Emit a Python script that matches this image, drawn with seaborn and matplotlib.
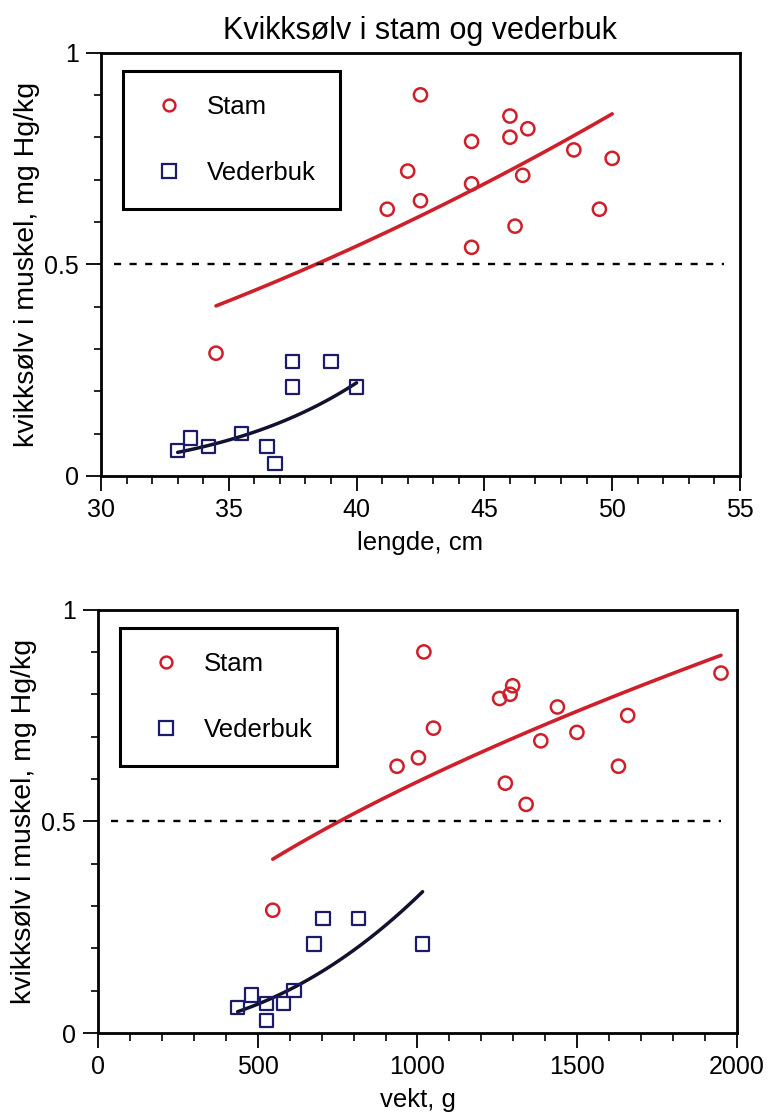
import numpy as np
import pandas as pd
import matplotlib
matplotlib.use("Agg")
import matplotlib.pyplot as plt
import seaborn as sns
from matplotlib.ticker import MultipleLocator, FixedLocator, FuncFormatter
from matplotlib.lines import Line2D

# ---------------- data ----------------
title = "Kvikksølv i stam og vederbuk"
y_label = "kvikksølv i muskel, mg Hg/kg"
x_label_length = "lengde, cm"
x_label_weight = "vekt, g"
species = ["Stam", "Vederbuk"]
threshold = 0.5

stam_length = [42.5, 46.0, 46.7, 46.0, 44.5, 48.5, 50.0, 42.0, 46.5, 44.5, 42.5, 41.2, 49.5, 46.2, 44.5, 34.5]
stam_weight = [1020, 1950, 1298, 1290, 1257, 1438, 1658, 1050, 1499, 1386, 1003, 936, 1629, 1275, 1340, 547]
stam_hg = [0.90, 0.85, 0.82, 0.80, 0.79, 0.77, 0.75, 0.72, 0.71, 0.69, 0.65, 0.63, 0.63, 0.59, 0.54, 0.29]

ved_length = [33.0, 33.5, 34.2, 36.5, 36.8, 35.5, 37.5, 40.0, 37.5, 39.0]
ved_weight = [437, 481, 527, 580, 527, 614, 676, 1016, 704, 815]
ved_hg = [0.06, 0.09, 0.07, 0.07, 0.03, 0.10, 0.21, 0.21, 0.27, 0.27]

length_ticks = [30, 35, 40, 45, 50, 55]
weight_ticks = [0, 500, 1000, 1500, 2000]
hg_ticks = [0, 0.5, 1]

# ---------------- style ----------------
sns.set_style("ticks")
plt.rcParams["font.family"] = ["Liberation Sans", "DejaVu Sans"]
plt.rcParams["text.color"] = "black"
plt.rcParams["axes.labelcolor"] = "black"
plt.rcParams["xtick.color"] = "black"
plt.rcParams["ytick.color"] = "black"

RED = "#cf1f2b"
NAVY = "#1b1b6a"
NAVY_LINE = "#12122e"


def power_fit(x, y):
    x = np.asarray(x, float)
    y = np.asarray(y, float)
    b, ln_a = np.polyfit(np.log(x), np.log(y), 1)
    xs = np.linspace(x.min(), x.max(), 100)
    return xs, np.exp(ln_a) * xs ** b


fig = plt.figure(figsize=(7.68, 11.15), dpi=100)
ax_top = fig.add_axes([0.1315, 0.5731, 0.832, 0.3798])
ax_bot = fig.add_axes([0.1276, 0.0735, 0.832, 0.3798])

panels = [
    (ax_top, stam_length, ved_length, length_ticks, 1, x_label_length),
    (ax_bot, stam_weight, ved_weight, weight_ticks, 100, x_label_weight),
]

for ax, sx, vx, xticks, xminor, xlabel in panels:
    # fit curves
    fx, fy = power_fit(sx, stam_hg)
    sns.lineplot(x=fx, y=fy, color=RED, lw=2.6, ax=ax, legend=False, sort=False)
    fx, fy = power_fit(vx, ved_hg)
    sns.lineplot(x=fx, y=fy, color=NAVY_LINE, lw=2.5, ax=ax, legend=False, sort=False)

    # threshold
    ax.axhline(threshold, xmin=0.02, xmax=0.975, color="black", lw=1.7,
               dashes=(3.0, 3.6))

    # points
    sns.scatterplot(x=sx, y=stam_hg, marker="o", s=90, facecolor="none",
                    edgecolor=RED, linewidth=1.8, ax=ax, legend=False, zorder=5)
    sns.scatterplot(x=vx, y=ved_hg, marker="s", s=95, facecolor="none",
                    edgecolor=NAVY, linewidth=1.6, ax=ax, legend=False, zorder=5)

    ax.set_xlim(xticks[0], xticks[-1])
    ax.set_ylim(0, 1)
    ax.xaxis.set_major_locator(FixedLocator(xticks))
    ax.xaxis.set_minor_locator(MultipleLocator(xminor))
    ax.yaxis.set_major_locator(FixedLocator(hg_ticks))
    ax.yaxis.set_minor_locator(MultipleLocator(0.1))
    ax.yaxis.set_major_formatter(FuncFormatter(lambda v, p: f"{v:g}"))
    ax.tick_params(axis="both", which="major", direction="out", length=11,
                   width=1.3, labelsize=18, color="black", pad=5)
    ax.tick_params(axis="x", which="minor", direction="out", length=6, width=1.2)
    ax.tick_params(axis="y", which="minor", direction="out", length=5, width=1.2)
    for sp in ax.spines.values():
        sp.set_visible(True)
        sp.set_linewidth(2.0)
        sp.set_color("black")
    ax.set_xlabel(xlabel, fontsize=18.5, labelpad=6)
    ax.set_ylabel(y_label, fontsize=20.5, labelpad=3)

    handles = [
        Line2D([], [], ls="none", marker="o", ms=8.5, mfc="none", mec=RED, mew=1.8),
        Line2D([], [], ls="none", marker="s", ms=9.5, mfc="none", mec=NAVY, mew=1.6),
    ]
    leg = ax.legend(handles, species, loc="upper left",
                    bbox_to_anchor=(0.034, 0.957), borderaxespad=0,
                    fontsize=18.5, frameon=True, fancybox=False, framealpha=1,
                    edgecolor="black", borderpad=0.95, labelspacing=1.62,
                    handlelength=1.72, handletextpad=0.6)
    leg.get_frame().set_linewidth(2.2)

fig.text(0.547, 1 - 31 / 1115, title, ha="center", va="center", fontsize=22)

fig.savefig("out.png", dpi=100)
